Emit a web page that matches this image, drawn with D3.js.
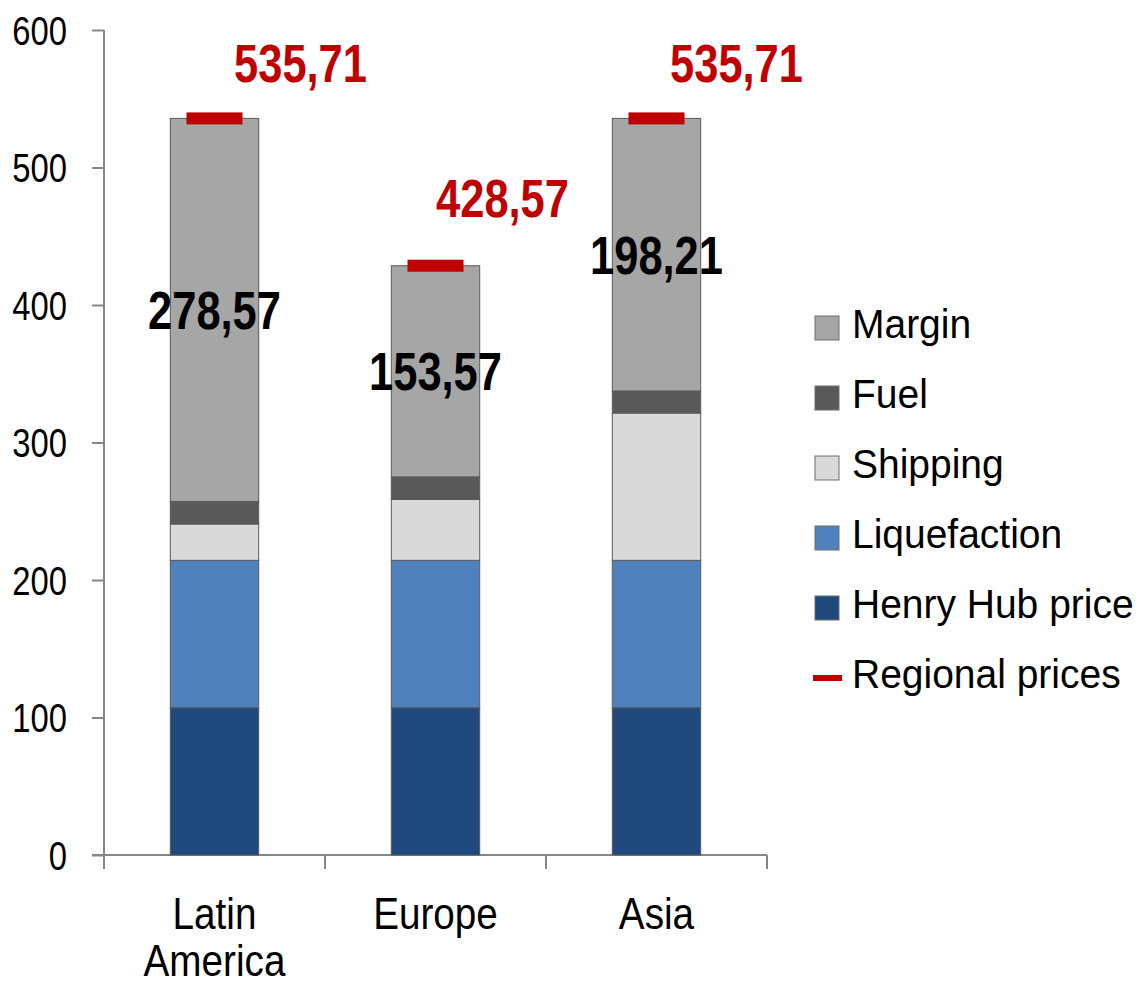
<!DOCTYPE html>
<html>
<head>
<meta charset="utf-8">
<script src="https://cdn.jsdelivr.net/npm/d3@7/dist/d3.min.js"></script>
<style>
  html, body { margin: 0; padding: 0; background: #fff; }
  svg { display: block; }
  text { font-family: "Liberation Sans", Arial, sans-serif; }
</style>
</head>
<body>
<svg id="chart" width="1138" height="986"></svg>
<script>
// Regions on the x axis
const regions = ["Latin America", "Europe", "Asia"];
const regionLines = [["Latin", "America"], ["Europe"], ["Asia"]];

// Cost components per region (stacked bottom to top)
const henryHub     = [107.14, 107.14, 107.14];
const liquefaction = [107.14, 107.14, 107.14];
const shipping     = [26.43, 44.29, 107.14];
const fuel         = [16.43, 16.43, 16.08];
const margin       = [278.57, 153.57, 198.21];

// Regional selling prices
const regionalPrices = [535.71, 428.57, 535.71];

// Axis ticks
const yTicks = [0, 100, 200, 300, 400, 500, 600];

const seriesNames = ["Henry Hub price", "Liquefaction", "Shipping", "Fuel", "Margin"];
const seriesColors = {
  "Henry Hub price": "#1f497d",
  "Liquefaction": "#4f81bd",
  "Shipping": "#d9d9d9",
  "Fuel": "#595959",
  "Margin": "#a6a6a6"
};
const priceColor = "#c00000";

// Condensed look for axis and value labels
const NARROW = 0.82;
const CAT_NARROW = 0.86;

const rows = regions.map((r, i) => ({
  region: r,
  "Henry Hub price": henryHub[i],
  "Liquefaction": liquefaction[i],
  "Shipping": shipping[i],
  "Fuel": fuel[i],
  "Margin": margin[i],
  price: regionalPrices[i]
}));

const fmt = v => v.toFixed(2).replace(".", ",");

const svg = d3.select("#chart");

const x = d3.scaleBand()
  .domain(regions)
  .range([104, 767])
  .paddingInner(0.6)
  .paddingOuter(0.3);

const y = d3.scaleLinear().domain([0, 600]).range([855, 30]);

const cx = r => x(r) + x.bandwidth() / 2;

// Category boundaries for the x-axis tick marks
const bounds = d3.range(regions.length + 1).map(i => 104 + i * (663 / regions.length));

const axisColor = "#868686";

// Y axis
const yAxis = svg.append("g")
  .attr("transform", "translate(104,0)")
  .call(d3.axisLeft(y).tickValues(yTicks).tickSize(12).tickFormat(d3.format("d")));
yAxis.attr("font-family", null).attr("font-size", null);
yAxis.select(".domain").attr("stroke", axisColor).attr("stroke-width", 2).attr("d", "M0,30V855");
yAxis.selectAll(".tick line").attr("stroke", axisColor).attr("stroke-width", 2);
yAxis.selectAll(".tick text")
  .attr("x", 0)
  .attr("transform", `translate(-37,0) scale(${NARROW},1)`)
  .attr("font-size", 40)
  .attr("fill", "#000")
  .attr("dy", "0.36em");

// X axis line and category separators
const xAxis = svg.append("g");
xAxis.append("line")
  .attr("x1", 92).attr("x2", 767)
  .attr("y1", y(0)).attr("y2", y(0))
  .attr("stroke", axisColor).attr("stroke-width", 2);
xAxis.selectAll("line.sep")
  .data(bounds)
  .join("line")
  .attr("class", "sep")
  .attr("x1", d => d).attr("x2", d => d)
  .attr("y1", y(0)).attr("y2", y(0) + 14)
  .attr("stroke", axisColor).attr("stroke-width", 2);

// Category labels
xAxis.selectAll("text.cat")
  .data(regions)
  .join("text")
  .attr("class", "cat")
  .attr("text-anchor", "middle")
  .attr("font-size", 45)
  .attr("fill", "#000")
  .attr("transform", d => `translate(${cx(d)},${y(0) + 74}) scale(${CAT_NARROW},1)`)
  .each(function(d, i) {
    const t = d3.select(this);
    regionLines[i].forEach((ln, k) => {
      t.append("tspan")
        .attr("x", 0)
        .attr("dy", k === 0 ? 0 : 47)
        .text(ln);
    });
  });

// Stacked bars
const stacked = d3.stack().keys(seriesNames)(rows);

svg.append("g")
  .selectAll("g")
  .data(stacked)
  .join("g")
  .attr("fill", d => seriesColors[d.key])
  .selectAll("rect")
  .data(d => d)
  .join("rect")
  .attr("x", d => x(d.data.region))
  .attr("width", x.bandwidth())
  .attr("y", d => y(d[1]))
  .attr("height", d => y(d[0]) - y(d[1]))
  .attr("stroke", "#5a5a5a")
  .attr("stroke-width", 1);

// Margin value labels, centred in the margin segment
const marginLayer = stacked.find(s => s.key === "Margin");
svg.append("g")
  .selectAll("text")
  .data(marginLayer)
  .join("text")
  .attr("text-anchor", "middle")
  .attr("font-size", 53)
  .attr("font-weight", "bold")
  .attr("fill", "#000")
  .attr("dy", "0.36em")
  .attr("transform", d => `translate(${cx(d.data.region)},${(y(d[0]) + y(d[1])) / 2}) scale(${NARROW},1)`)
  .text(d => fmt(d.data.Margin));

// Regional price markers
svg.append("g")
  .selectAll("rect")
  .data(rows)
  .join("rect")
  .attr("x", d => cx(d.region) - 28)
  .attr("width", 56)
  .attr("y", d => y(d.price) - 6)
  .attr("height", 12)
  .attr("fill", priceColor);

// Regional price labels, up and to the right of each marker
const priceLabelDx = [86, 67, 80];
svg.append("g")
  .selectAll("text")
  .data(rows)
  .join("text")
  .attr("text-anchor", "middle")
  .attr("font-size", 53)
  .attr("font-weight", "bold")
  .attr("fill", priceColor)
  .attr("transform", (d, i) => `translate(${cx(d.region) + priceLabelDx[i]},${Math.max(82, y(d.price) - 49)}) scale(${NARROW},1)`)
  .text(d => fmt(d.price));

// Legend
const legendItems = ["Margin", "Fuel", "Shipping", "Liquefaction", "Henry Hub price", "Regional prices"];
const legend = svg.append("g").attr("transform", "translate(815,328)");
const li = legend.selectAll("g")
  .data(legendItems)
  .join("g")
  .attr("transform", (d, i) => `translate(0,${i * 70})`);
li.each(function(d) {
  const g = d3.select(this);
  if (d === "Regional prices") {
    g.append("rect")
      .attr("x", -2).attr("y", -3)
      .attr("width", 29).attr("height", 6)
      .attr("fill", priceColor);
  } else {
    g.append("rect")
      .attr("x", 0).attr("y", -12)
      .attr("width", 24).attr("height", 24)
      .attr("fill", seriesColors[d])
      .attr("stroke", "#6e6e6e")
      .attr("stroke-width", 1);
  }
});
li.append("text")
  .attr("x", 37)
  .attr("y", 10)
  .attr("font-size", 39)
  .attr("fill", "#000")
  .attr("transform", "scale(1,1.04)")
  .text(d => d);
</script>
</body>
</html>
